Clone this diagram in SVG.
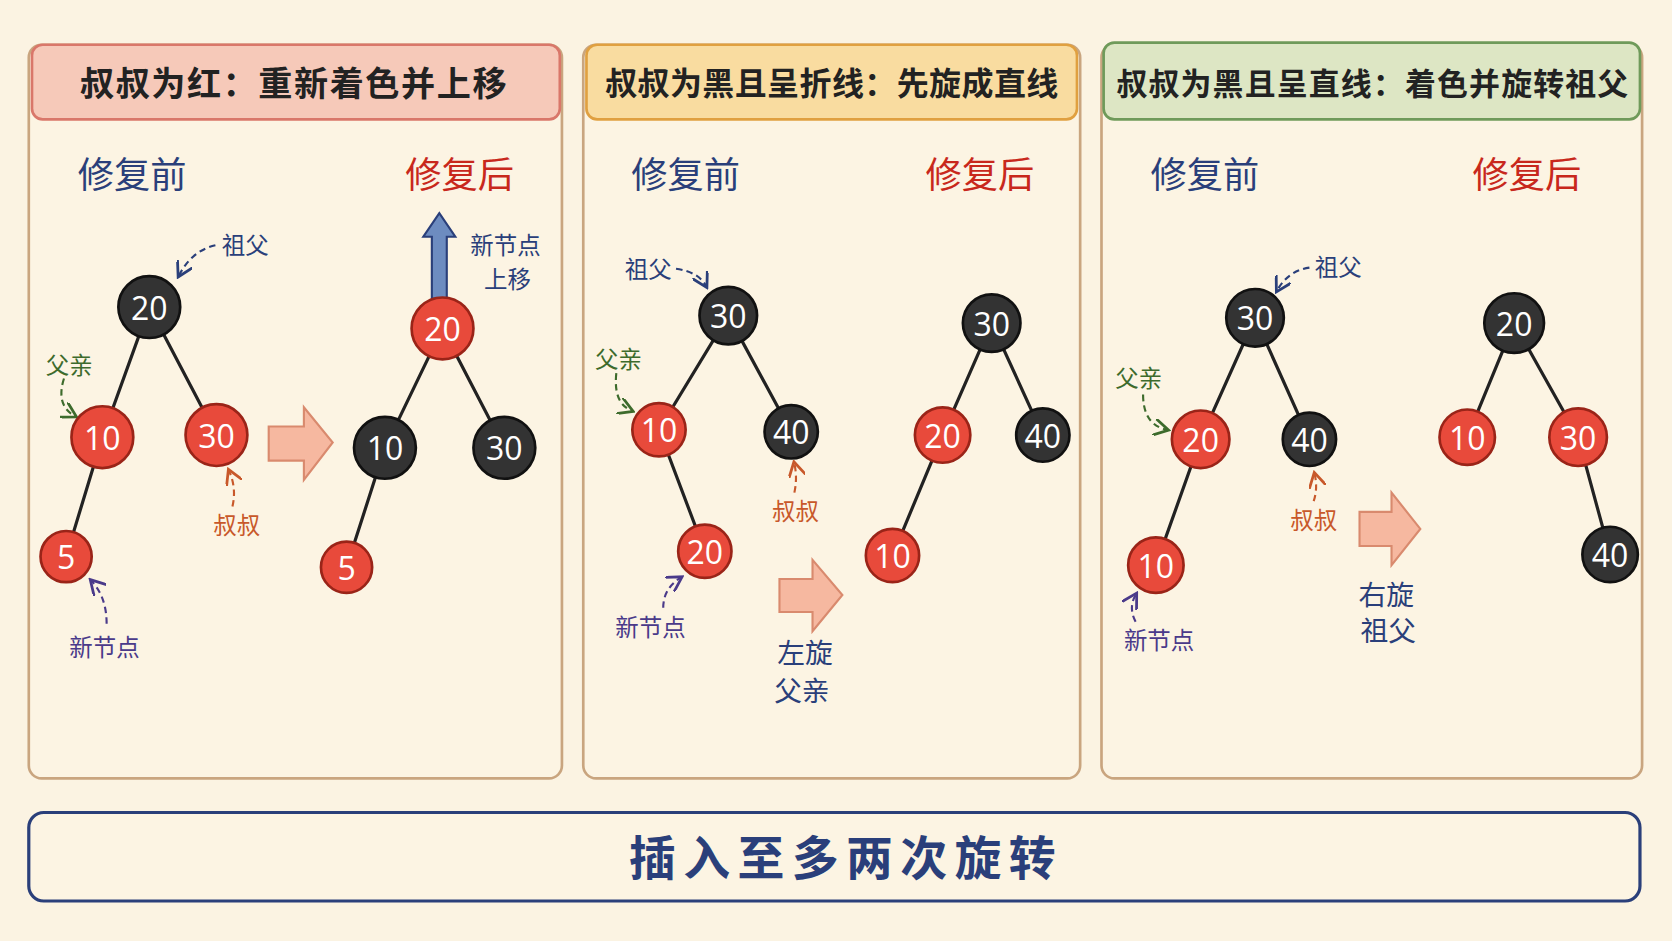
<svg xmlns="http://www.w3.org/2000/svg" width="1672" height="941" viewBox="0 0 1672 941">
<defs>
<style>
text{font-family:"Noto Sans CJK SC","Noto Sans",sans-serif;text-anchor:middle}
.panel{fill:#fcf4e3;stroke:#c9a57f;stroke-width:2.5}
.nb{fill:#333;stroke:#111;stroke-width:2.5}
.nr{fill:#e84a3b;stroke:#9a2418;stroke-width:2.5}
.nt{fill:#fff;font-family:"Open Sans","Noto Sans",sans-serif;font-size:30px;dominant-baseline:central}
.edge{stroke:#222;stroke-width:3;fill:none}
.h{font-size:32px;fill:#222;font-weight:bold}
.t{font-size:34px}
.lb{font-size:22px}
.da{fill:none;stroke-width:2;stroke-dasharray:6 4}
.fat{fill:#f6b8a0;stroke:#d98a6e;stroke-width:2}
</style>
<marker id="mN" markerWidth="8" markerHeight="8" refX="6" refY="4" orient="auto" markerUnits="strokeWidth"><path d="M0,0 L7,4 L0,8" fill="none" stroke="#2a3f7a" stroke-width="1.3"/></marker>
<marker id="mG" markerWidth="8" markerHeight="8" refX="6" refY="4" orient="auto" markerUnits="strokeWidth"><path d="M0,0 L7,4 L0,8" fill="none" stroke="#3d6b2c" stroke-width="1.3"/></marker>
<marker id="mO" markerWidth="8" markerHeight="8" refX="6" refY="4" orient="auto" markerUnits="strokeWidth"><path d="M0,0 L7,4 L0,8" fill="none" stroke="#c8582a" stroke-width="1.3"/></marker>
<marker id="mP" markerWidth="8" markerHeight="8" refX="6" refY="4" orient="auto" markerUnits="strokeWidth"><path d="M0,0 L7,4 L0,8" fill="none" stroke="#4a3a8a" stroke-width="1.3"/></marker>
</defs>
<rect width="1672" height="941" fill="#fbf3e2"/>
<g transform="scale(1.0663)">
<g id="panel1">
<rect class="panel" x="27" y="42" width="500" height="688" rx="12"/>
<rect x="30" y="42" width="495" height="70" rx="10" fill="#f6c9b9" stroke="#d9776a" stroke-width="2.5"/>
<text class="h" x="275" y="90" textLength="400">叔叔为红：重新着色并上移</text>
<text class="t" x="124" y="176" fill="#2a3f7a">修复前</text>
<text class="t" x="431" y="176" fill="#c8281c">修复后</text>
</g>
<g id="panel2">
<rect class="panel" x="547" y="42" width="466" height="688" rx="12"/>
<rect x="550" y="42" width="460" height="70" rx="10" fill="#f9dca0" stroke="#e0a040" stroke-width="2.5"/>
<text class="h" x="780" y="89" textLength="425" style="font-size:30px">叔叔为黑且呈折线：先旋成直线</text>
<text class="t" x="643" y="176" fill="#2a3f7a">修复前</text>
<text class="t" x="919" y="176" fill="#c8281c">修复后</text>
</g>
<g id="panel3">
<rect class="panel" x="1033" y="42" width="507" height="688" rx="12"/>
<rect x="1035" y="40" width="503" height="72" rx="10" fill="#dde6c4" stroke="#6f9a5a" stroke-width="2.5"/>
<text class="h" x="1287" y="89" textLength="480" style="font-size:29px">叔叔为黑且呈直线：着色并旋转祖父</text>
<text class="t" x="1130" y="176" fill="#2a3f7a">修复前</text>
<text class="t" x="1432" y="176" fill="#c8281c">修复后</text>
</g>
<g id="connectors">
<path class="edge" d="M140,288L96,410M140,288L203,408M96,410L62,522"/>
<path class="edge" d="M415,308L361,420M415,308L473,420M361,420L325,532"/>
<path class="edge" d="M683,296L618,403M683,296L742,405M618,403L661,517"/>
<path class="edge" d="M930,303L884,408M930,303L978,408M884,408L837,521"/>
<path class="edge" d="M1177,298L1126,412M1177,298L1228,412M1126,412L1084,530"/>
<path class="edge" d="M1420,303L1376,410M1420,303L1480,410M1480,410L1510,520"/>
<path class="da" stroke="#2a3f7a" marker-end="url(#mN)" d="M202,230 Q180,235 168,258"/>
<path class="da" stroke="#3d6b2c" marker-end="url(#mG)" d="M60,355 Q52,380 70,390"/>
<path class="da" stroke="#c8582a" marker-end="url(#mO)" d="M218,475 Q222,458 215,442"/>
<path class="da" stroke="#4a3a8a" marker-end="url(#mP)" d="M100,585 Q100,560 86,545"/>
<path class="da" stroke="#2a3f7a" marker-end="url(#mN)" d="M634,252 Q655,255 662,268"/>
<path class="da" stroke="#3d6b2c" marker-end="url(#mG)" d="M578,350 Q575,378 592,385"/>
<path class="da" stroke="#c8582a" marker-end="url(#mO)" d="M745,462 Q748,448 745,435"/>
<path class="da" stroke="#4a3a8a" marker-end="url(#mP)" d="M622,570 Q622,552 638,542"/>
<path class="da" stroke="#2a3f7a" marker-end="url(#mN)" d="M1228,251 Q1208,254 1198,272"/>
<path class="da" stroke="#3d6b2c" marker-end="url(#mG)" d="M1072,370 Q1072,398 1094,403"/>
<path class="da" stroke="#c8582a" marker-end="url(#mO)" d="M1232,470 Q1236,458 1233,445"/>
<path class="da" stroke="#4a3a8a" marker-end="url(#mP)" d="M1065,583 Q1058,570 1065,558"/>
<path fill="#6d8cc0" stroke="#2a3f7a" stroke-width="2" d="M405,280 L405,222 L397,222 L412,200 L427,222 L419,222 L419,280 Z"/>
<path class="fat" d="M252,400 L285,400 L285,382 L312,415 L285,450 L285,432 L252,432 Z"/>
<path class="fat" d="M731,543 L762,543 L762,525 L790,558 L762,592 L762,574 L731,574 Z"/>
<path class="fat" d="M1275,480 L1305,480 L1305,462 L1332,496 L1305,530 L1305,512 L1275,512 Z"/>
</g>
<g id="labels" class="lb">
<text x="230" y="238" fill="#2a3f7a">祖父</text>
<text x="65" y="351" fill="#3d6b2c">父亲</text>
<text x="222" y="501" fill="#c8582a">叔叔</text>
<text x="98" y="615" fill="#4a3a8a">新节点</text>
<text x="474" y="238" fill="#2a3f7a">新节点</text>
<text x="476" y="270" fill="#2a3f7a">上移</text>
<text x="608" y="261" fill="#2a3f7a">祖父</text>
<text x="580" y="345" fill="#3d6b2c">父亲</text>
<text x="746" y="488" fill="#c8582a">叔叔</text>
<text x="610" y="596" fill="#4a3a8a">新节点</text>
<text x="755" y="622" fill="#2a3f7a" style="font-size:26px">左旋</text>
<text x="752" y="657" fill="#2a3f7a" style="font-size:26px">父亲</text>
<text x="1255" y="259" fill="#2a3f7a">祖父</text>
<text x="1068" y="363" fill="#3d6b2c">父亲</text>
<text x="1232" y="496" fill="#c8582a">叔叔</text>
<text x="1087" y="609" fill="#4a3a8a">新节点</text>
<text x="1300" y="567" fill="#2a3f7a" style="font-size:26px">右旋</text>
<text x="1302" y="601" fill="#2a3f7a" style="font-size:26px">祖父</text>
</g>
<g id="n1"><circle class="nb" cx="140" cy="288" r="29"/><text class="nt" x="140" y="288">20</text></g>
<g id="n2"><circle class="nr" cx="96" cy="410" r="29"/><text class="nt" x="96" y="410">10</text></g>
<g id="n3"><circle class="nr" cx="203" cy="408" r="29"/><text class="nt" x="203" y="408">30</text></g>
<g id="n4"><circle class="nr" cx="62" cy="522" r="24"/><text class="nt" x="62" y="522">5</text></g>
<g id="n5"><circle class="nr" cx="415" cy="308" r="29"/><text class="nt" x="415" y="308">20</text></g>
<g id="n6"><circle class="nb" cx="361" cy="420" r="29"/><text class="nt" x="361" y="420">10</text></g>
<g id="n7"><circle class="nb" cx="473" cy="420" r="29"/><text class="nt" x="473" y="420">30</text></g>
<g id="n8"><circle class="nr" cx="325" cy="532" r="24"/><text class="nt" x="325" y="532">5</text></g>
<g id="n9"><circle class="nb" cx="683" cy="296" r="27"/><text class="nt" x="683" y="296">30</text></g>
<g id="n10"><circle class="nr" cx="618" cy="403" r="25"/><text class="nt" x="618" y="403">10</text></g>
<g id="n11"><circle class="nb" cx="742" cy="405" r="25"/><text class="nt" x="742" y="405">40</text></g>
<g id="n12"><circle class="nr" cx="661" cy="517" r="25"/><text class="nt" x="661" y="517">20</text></g>
<g id="n13"><circle class="nb" cx="930" cy="303" r="27"/><text class="nt" x="930" y="303">30</text></g>
<g id="n14"><circle class="nr" cx="884" cy="408" r="26"/><text class="nt" x="884" y="408">20</text></g>
<g id="n15"><circle class="nb" cx="978" cy="408" r="25"/><text class="nt" x="978" y="408">40</text></g>
<g id="n16"><circle class="nr" cx="837" cy="521" r="25"/><text class="nt" x="837" y="521">10</text></g>
<g id="n17"><circle class="nb" cx="1177" cy="298" r="27"/><text class="nt" x="1177" y="298">30</text></g>
<g id="n18"><circle class="nr" cx="1126" cy="412" r="27"/><text class="nt" x="1126" y="412">20</text></g>
<g id="n19"><circle class="nb" cx="1228" cy="412" r="25"/><text class="nt" x="1228" y="412">40</text></g>
<g id="n20"><circle class="nr" cx="1084" cy="530" r="26"/><text class="nt" x="1084" y="530">10</text></g>
<g id="n21"><circle class="nb" cx="1420" cy="303" r="28"/><text class="nt" x="1420" y="303">20</text></g>
<g id="n22"><circle class="nr" cx="1376" cy="410" r="26"/><text class="nt" x="1376" y="410">10</text></g>
<g id="n23"><circle class="nr" cx="1480" cy="410" r="27"/><text class="nt" x="1480" y="410">30</text></g>
<g id="n24"><circle class="nb" cx="1510" cy="520" r="26"/><text class="nt" x="1510" y="520">40</text></g>
<g id="footer">
<rect x="27" y="762" width="1511" height="83" rx="14" fill="#fcf4e3" stroke="#2a3f7a" stroke-width="3"/>
<text x="790" y="821" fill="#2a3f7a" style="font-size:44px;font-weight:bold" textLength="400">插入至多两次旋转</text>
</g>
</g>
</svg>
